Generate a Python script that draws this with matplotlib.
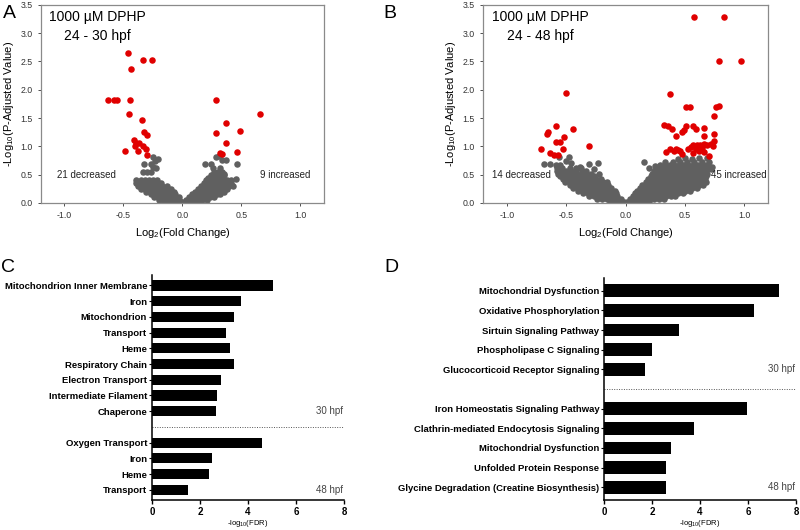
import matplotlib
matplotlib.use('Agg')
import matplotlib.pyplot as plt

plt.rcParams['font.family'] = ['Liberation Sans', 'DejaVu Sans']
plt.rcParams['mathtext.fontset'] = 'custom'
plt.rcParams['mathtext.rm'] = 'Liberation Sans'
plt.rcParams['mathtext.it'] = 'Liberation Sans:italic'
plt.rcParams['mathtext.bf'] = 'Liberation Sans:bold'

RED = '#e00000'
GRAY = '#606060'

# ---- panel A: 24-30 hpf volcano ----
a_red_dn = [(-0.457, 2.65), (-0.333, 2.52), (-0.255, 2.52), (-0.437, 2.36),
            (-0.633, 1.82), (-0.583, 1.82), (-0.552, 1.82), (-0.445, 1.82),
            (-0.454, 1.58), (-0.345, 1.47), (-0.325, 1.25), (-0.303, 1.20),
            (-0.406, 1.12), (-0.392, 1.06), (-0.370, 1.06), (-0.398, 1.01),
            (-0.336, 1.01), (-0.308, 0.95), (-0.378, 0.92), (-0.487, 0.91),
            (-0.297, 0.85)]
a_red_up = [(0.283, 1.82), (0.655, 1.58), (0.367, 1.42), (0.485, 1.27),
            (0.283, 1.24), (0.367, 1.06), (0.319, 0.88), (0.333, 0.87),
            (0.465, 0.90)]
a_gray_rows = [
    (0.02, [-0.12, -0.085, -0.05, -0.015, 0.0, 0.025, 0.06, 0.095, 0.13]),
    (0.06, [-0.20, -0.165, -0.13, -0.095, -0.06, -0.025, 0.03, 0.065, 0.10, 0.135, 0.17, 0.205]),
    (0.10, [-0.24, -0.205, -0.17, -0.135, -0.10, -0.065, -0.03,
            0.06, 0.095, 0.13, 0.165, 0.20, 0.235, 0.27]),
    (0.15, [-0.27, -0.235, -0.20, -0.165, -0.13, -0.095, -0.06,
            0.085, 0.12, 0.155, 0.19, 0.225, 0.26, 0.295, 0.32]),
    (0.20, [-0.31, -0.275, -0.24, -0.205, -0.17, -0.135, -0.10, -0.07,
            0.11, 0.145, 0.18, 0.215, 0.25, 0.285, 0.32, 0.35]),
    (0.25, [-0.35, -0.315, -0.28, -0.245, -0.21, -0.175, -0.14, -0.10,
            0.135, 0.17, 0.205, 0.24, 0.275, 0.31, 0.345, 0.375]),
    (0.30, [-0.38, -0.345, -0.31, -0.275, -0.24, -0.205, -0.17, -0.13,
            0.16, 0.195, 0.23, 0.265, 0.30, 0.335, 0.37, 0.395]),
    (0.35, [-0.39, -0.355, -0.32, -0.285, -0.25, -0.215, -0.18,
            0.18, 0.215, 0.25, 0.285, 0.32, 0.355, 0.39, 0.41]),
    (0.40, [-0.39, -0.355, -0.32, -0.285, -0.25, -0.215,
            0.20, 0.235, 0.27, 0.305, 0.34, 0.375]),
    (0.45, [0.22, 0.255, 0.29, 0.325]),
    (0.50, [0.245, 0.28, 0.315, 0.35]),
    (0.55, [0.27, 0.305]),
]
a_gray_extra = [(-0.325, 0.69), (-0.263, 0.69), (-0.252, 0.81), (-0.21, 0.77),
                (-0.235, 0.75), (-0.333, 0.55), (-0.297, 0.55), (-0.263, 0.55),
                (-0.22, 0.62), (-0.245, 0.64),
                (0.188, 0.68), (0.244, 0.69), (0.286, 0.81), (0.308, 0.83),
                (0.339, 0.76), (0.367, 0.76), (0.258, 0.61), (0.333, 0.55),
                (0.356, 0.51), (0.412, 0.40), (0.465, 0.68), (0.456, 0.42),
                (0.43, 0.30), (0.32, 0.62)]

# ---- panel B: 24-48 hpf volcano ----
b_red_dn = [(-0.505, 1.94), (-0.583, 1.36), (-0.442, 1.31), (-0.651, 1.25),
            (-0.662, 1.22), (-0.521, 1.16), (-0.583, 1.07), (-0.555, 1.07),
            (-0.307, 1.01), (-0.716, 0.95), (-0.527, 0.96), (-0.640, 0.88),
            (-0.606, 0.85), (-0.570, 0.84)]
b_red_up = [(0.574, 3.28), (0.826, 3.28), (0.784, 2.51), (0.976, 2.51),
            (0.378, 1.92), (0.510, 1.69), (0.546, 1.69), (0.764, 1.69),
            (0.790, 1.72), (0.744, 1.53), (0.324, 1.37), (0.358, 1.36),
            (0.394, 1.31), (0.425, 1.19), (0.479, 1.25), (0.493, 1.29),
            (0.505, 1.36), (0.569, 1.36), (0.597, 1.31), (0.657, 1.32),
            (0.657, 1.19), (0.746, 1.21), (0.338, 0.90), (0.372, 0.96),
            (0.423, 0.96), (0.440, 0.93), (0.473, 0.86), (0.460, 0.91),
            (0.550, 0.99), (0.572, 1.02), (0.600, 1.03), (0.628, 1.02),
            (0.657, 1.04), (0.690, 1.03), (0.716, 1.05), (0.733, 1.01),
            (0.572, 0.88), (0.620, 0.92), (0.657, 0.90), (0.699, 0.83),
            (0.595, 0.95), (0.640, 0.97), (0.530, 0.96), (0.742, 1.10),
            (0.405, 0.91)]
b_gray_rows = [
    (0.02, [-0.13, -0.09, -0.05, -0.01, 0.01, 0.05, 0.09, 0.13, 0.17, 0.20]),
    (0.07, [-0.24, -0.20, -0.16, -0.12, -0.08, -0.04,
            0.04, 0.08, 0.12, 0.16, 0.20, 0.24, 0.28, 0.32]),
    (0.12, [-0.31, -0.27, -0.23, -0.19, -0.15, -0.11, -0.07,
            0.06, 0.10, 0.14, 0.18, 0.22, 0.26, 0.30, 0.34, 0.38, 0.42]),
    (0.17, [-0.36, -0.32, -0.28, -0.24, -0.20, -0.16, -0.12, -0.08,
            0.08, 0.12, 0.16, 0.20, 0.24, 0.28, 0.32, 0.36, 0.40, 0.44, 0.48]),
    (0.22, [-0.40, -0.36, -0.32, -0.28, -0.24, -0.20, -0.16, -0.12, -0.09,
            0.10, 0.14, 0.18, 0.22, 0.26, 0.30, 0.34, 0.38, 0.42, 0.46, 0.50, 0.54]),
    (0.27, [-0.44, -0.40, -0.36, -0.32, -0.28, -0.24, -0.20, -0.16, -0.12,
            0.12, 0.16, 0.20, 0.24, 0.28, 0.32, 0.36, 0.40, 0.44, 0.48, 0.52, 0.56, 0.60]),
    (0.32, [-0.47, -0.43, -0.39, -0.35, -0.31, -0.27, -0.23, -0.19, -0.15,
            0.14, 0.18, 0.22, 0.26, 0.30, 0.34, 0.38, 0.42, 0.46, 0.50, 0.54, 0.58, 0.62, 0.65]),
    (0.37, [-0.51, -0.47, -0.43, -0.39, -0.35, -0.31, -0.27, -0.23, -0.19, -0.16,
            0.17, 0.21, 0.25, 0.29, 0.33, 0.37, 0.41, 0.45, 0.49, 0.53, 0.57, 0.61, 0.65, 0.68]),
    (0.42, [-0.53, -0.49, -0.45, -0.41, -0.37, -0.33, -0.29, -0.25, -0.21,
            0.19, 0.23, 0.27, 0.31, 0.35, 0.39, 0.43, 0.47, 0.51, 0.55, 0.59, 0.63, 0.67]),
    (0.47, [-0.55, -0.51, -0.47, -0.43, -0.39, -0.35, -0.31, -0.27,
            0.21, 0.25, 0.29, 0.33, 0.37, 0.41, 0.45, 0.49, 0.53, 0.57, 0.61, 0.65, 0.68]),
    (0.52, [-0.57, -0.53, -0.49, -0.45, -0.41, -0.37, -0.33, -0.29,
            0.22, 0.26, 0.30, 0.34, 0.38, 0.42, 0.46, 0.50, 0.54, 0.58, 0.62, 0.66, 0.69]),
    (0.57, [-0.58, -0.54, -0.50, -0.46, -0.42, -0.37, -0.33,
            0.24, 0.28, 0.32, 0.36, 0.40, 0.44, 0.48, 0.52, 0.56, 0.60, 0.64, 0.68]),
    (0.62, [-0.58, -0.54, -0.47, -0.42, -0.38,
            0.26, 0.30, 0.34, 0.38, 0.42, 0.46, 0.50, 0.54, 0.58, 0.62, 0.66, 0.70]),
    (0.67, [-0.59, -0.55, 0.29, 0.33, 0.37, 0.41, 0.45, 0.49, 0.53, 0.57, 0.61, 0.65, 0.69]),
    (0.72, [0.33, 0.40, 0.46, 0.52, 0.58, 0.64, 0.70]),
]
b_gray_extra = [(-0.687, 0.69), (-0.637, 0.69), (-0.558, 0.81), (-0.48, 0.81),
                (-0.456, 0.71), (-0.383, 0.64), (-0.31, 0.69), (-0.234, 0.71),
                (-0.50, 0.75), (-0.27, 0.60), (-0.22, 0.52),
                (0.155, 0.73), (0.197, 0.61), (0.25, 0.66), (0.44, 0.78),
                (0.50, 0.79), (0.56, 0.77), (0.62, 0.80), (0.69, 0.80),
                (0.73, 0.64), (0.72, 0.60)]

# ---- panel C: enriched terms ----
c_terms = ['Mitochondrion Inner Membrane', 'Iron', 'Mitochondrion', 'Transport',
           'Heme', 'Respiratory Chain', 'Electron Transport',
           'Intermediate Filament', 'Chaperone',
           'Oxygen Transport', 'Iron', 'Heme', 'Transport']
c_vals = [5.05, 3.69, 3.41, 3.07, 3.27, 3.43, 2.88, 2.72, 2.66,
          4.60, 2.50, 2.36, 1.48]
c_n30 = 9

# ---- panel D: pathways ----
d_terms = ['Mitochondrial Dysfunction', 'Oxidative Phosphorylation',
           'Sirtuin Signaling Pathway', 'Phospholipase C Signaling',
           'Glucocorticoid Receptor Signaling',
           'Iron Homeostatis Signaling Pathway',
           'Clathrin-mediated Endocytosis Signaling',
           'Mitochondrial Dysfunction', 'Unfolded Protein Response',
           'Glycine Degradation (Creatine Biosynthesis)']
d_vals = [7.30, 6.27, 3.13, 2.00, 1.72, 5.97, 3.76, 2.80, 2.59, 2.59]
d_n30 = 5


def flatten(rows, extra):
    xs, ys = [], []
    for y, row in rows:
        xs += row
        ys += [y] * len(row)
    xs += [p[0] for p in extra]
    ys += [p[1] for p in extra]
    return xs, ys


def volcano(ax, rows, extra, red_dn, red_up, line2, dn_text, up_text, dn_x, up_x):
    gx, gy = flatten(rows, extra)
    ax.scatter(gx, gy, s=22, color=GRAY, linewidths=0, zorder=2)
    red = red_dn + red_up
    ax.scatter([p[0] for p in red], [p[1] for p in red], s=22, color=RED,
               linewidths=0, zorder=3)
    ax.set_xlim(-1.2, 1.2)
    ax.set_ylim(0, 3.5)
    ax.set_xticks([-1.0, -0.5, 0.0, 0.5, 1.0])
    ax.set_yticks([0, 0.5, 1.0, 1.5, 2.0, 2.5, 3.0, 3.5])
    ax.xaxis.set_major_formatter(matplotlib.ticker.FormatStrFormatter('%.1f'))
    ax.yaxis.set_major_formatter(matplotlib.ticker.FormatStrFormatter('%.1f'))
    ax.tick_params(labelsize=6.3, colors='#333333', length=2.5, width=0.6,
                   direction='out')
    for sp in ax.spines.values():
        sp.set_color('#8a8a8a')
        sp.set_linewidth(0.9)
    ax.set_xlabel('Log$_2$(Fold Change)', fontsize=8, labelpad=4)
    ax.set_ylabel('-Log$_{10}$(P-Adjusted Value)', fontsize=8, labelpad=3)
    ax.text(0.2, 0.94, '1000 µM DPHP', transform=ax.transAxes, ha='center',
            va='center', fontsize=10)
    ax.text(0.2, 0.84, line2, transform=ax.transAxes, ha='center',
            va='center', fontsize=10)
    ax.text(dn_x, 0.49, dn_text, ha='center', va='center', fontsize=7,
            color='#222222', zorder=4)
    ax.text(up_x, 0.49, up_text, ha='center', va='center', fontsize=7,
            color='#222222', zorder=4)


def bars(ax, terms, vals, n30, lbl_size):
    pos = list(range(n30)) + [n30 + 1 + i for i in range(len(terms) - n30)]
    ax.barh(pos, vals, height=0.65, color='black', zorder=2)
    ax.set_yticks(pos)
    ax.set_yticklabels(terms, fontsize=lbl_size, fontweight='bold')
    last = pos[-1]
    ax.set_ylim(last + 0.65, -0.65)
    ax.set_xlim(0, 8)
    ax.set_xticks([0, 2, 4, 6, 8])
    for lab in ax.get_xticklabels():
        lab.set_fontweight('bold')
    ax.tick_params(axis='x', labelsize=7, length=3, width=1, pad=2)
    ax.tick_params(axis='y', length=2.5, width=0.8, pad=1)
    ax.spines['top'].set_visible(False)
    ax.spines['right'].set_visible(False)
    ax.spines['left'].set_linewidth(1.1)
    ax.spines['bottom'].set_linewidth(1.1)
    ax.plot([0, 8], [n30, n30], linestyle=(0, (1, 1.5)), color='#555555',
            linewidth=0.7, clip_on=False)
    ax.text(7.95, n30 - 1, '30 hpf', ha='right', va='center', fontsize=7,
            color='#444444')
    ax.text(7.95, last, '48 hpf', ha='right', va='center', fontsize=7,
            color='#444444')
    ax.set_xlabel('-log$_{10}$(FDR)', fontsize=5.5, labelpad=0.5)


fig = plt.figure(figsize=(8, 5.3), dpi=100)
ax_a = fig.add_axes([0.051, 0.617, 0.354, 0.374])
ax_b = fig.add_axes([0.604, 0.617, 0.356, 0.374])
ax_c = fig.add_axes([0.19, 0.0566, 0.24, 0.424])
ax_d = fig.add_axes([0.755, 0.0566, 0.24, 0.419])

volcano(ax_a, a_gray_rows, a_gray_extra, a_red_dn, a_red_up, '24 - 30 hpf',
        '21 decreased', '9 increased', -0.81, 0.87)
volcano(ax_b, b_gray_rows, b_gray_extra, b_red_dn, b_red_up, '24 - 48 hpf',
        '14 decreased', '45 increased', -0.88, 0.955)
bars(ax_c, c_terms, c_vals, c_n30, 6.8)
bars(ax_d, d_terms, d_vals, d_n30, 6.8)

for lbl, x, y in [('A', 0.012, 0.975), ('B', 0.487, 0.975),
                  ('C', 0.010, 0.495), ('D', 0.489, 0.495)]:
    fig.text(x, y, lbl, fontsize=14, ha='center', va='center')

fig.savefig('out.png', dpi=100)
